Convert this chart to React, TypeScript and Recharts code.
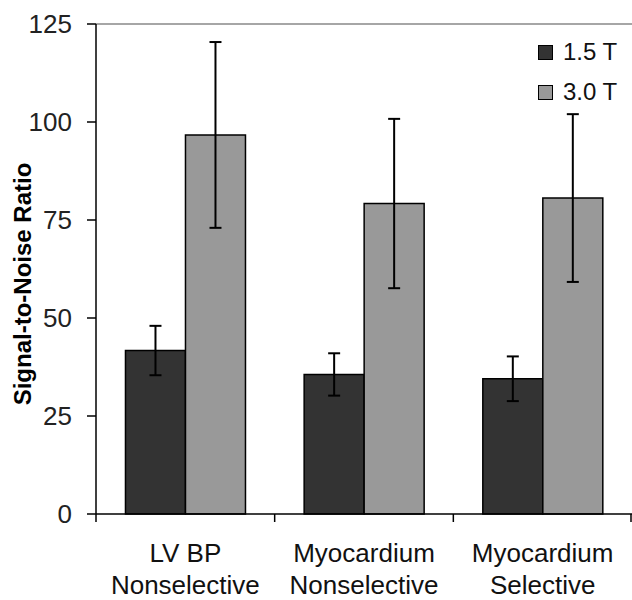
import React from "react";
import { BarChart, Bar, XAxis, YAxis, ErrorBar, Legend, ReferenceLine } from "recharts";

const categories = ["LV BP\nNonselective", "Myocardium\nNonselective", "Myocardium\nSelective"];
const snr15 = [41.7, 35.6, 34.5];
const sd15 = [6.3, 5.4, 5.7];
const snr30 = [96.7, 79.2, 80.6];
const sd30 = [23.7, 21.6, 21.4];
const yTicks = [0, 25, 50, 75, 100, 125];
const seriesNames = ["1.5 T", "3.0 T"];

const data = categories.map((c, i) => ({
  name: c,
  a: snr15[i],
  aErr: sd15[i],
  b: snr30[i],
  bErr: sd30[i],
}));

const FONT = "'Liberation Sans', Arial, sans-serif";

const CatTick = (props: any) => {
  const { x, y, payload, index, visibleTicksCount } = props;
  const lines = String(payload.value).split("\n");
  const off = payload && typeof payload.offset === "number" ? payload.offset : 0;
  const isLast = index === (visibleTicksCount ?? categories.length) - 1;
  return (
    <g>
      {off > 0 && (
        <line x1={x - off} y1={y} x2={x - off} y2={y + 8} stroke="#000" strokeWidth={1.5} />
      )}
      {off > 0 && isLast && (
        <line x1={x + off - 1} y1={y} x2={x + off - 1} y2={y + 8} stroke="#000" strokeWidth={1.5} />
      )}
      <text x={x} y={y} textAnchor="middle" fontSize={26} fill="#111" fontFamily={FONT}>
        {lines.map((l, i) => (
          <tspan key={i} x={x} dy={i === 0 ? 48 : 32}>
            {l}
          </tspan>
        ))}
      </text>
    </g>
  );
};

const YTitle = (props: any) => {
  const vb = props.viewBox || { x: 0, y: 0, width: 0, height: 0 };
  const cx = vb.x + 22;
  const cy = vb.y + vb.height / 2 + 15;
  return (
    <text
      x={cx}
      y={cy}
      transform={`rotate(-90 ${cx} ${cy})`}
      textAnchor="middle"
      dominantBaseline="central"
      fontSize={24}
      fontWeight="bold"
      fill="#000"
      fontFamily={FONT}
    >
      Signal-to-Noise Ratio
    </text>
  );
};

const LegendContent = (props: any) => {
  const payload = props.payload || [];
  return (
    <div style={{ fontFamily: FONT }}>
      {payload.map((p: any, i: number) => (
        <div key={i} style={{ display: "flex", alignItems: "center", height: 40 }}>
          <div
            style={{
              width: 13,
              height: 13,
              background: p.color,
              border: "1px solid #000",
              marginRight: 10,
            }}
          />
          <span style={{ fontSize: 24, color: "#111" }}>{p.value}</span>
        </div>
      ))}
    </div>
  );
};

export default function App() {
  return (
    <div style={{ position: "absolute", left: 0, top: 0, background: "#fff" }}>
      <BarChart
        width={634}
        height={600}
        data={data}
        margin={{ top: 24, right: 2, bottom: 0, left: 0 }}
        barCategoryGap="16.5%"
        barGap={0}
      >
        <XAxis
          dataKey="name"
          axisLine={{ stroke: "#000", strokeWidth: 1.5 }}
          tickLine={false}
          tickSize={0}
          tickMargin={0}
          height={86}
          interval={0}
          tick={<CatTick />}
        />
        <YAxis
          domain={[0, 125]}
          ticks={yTicks}
          width={96}
          tickSize={9}
          tickMargin={15}
          axisLine={{ stroke: "#000", strokeWidth: 1.5 }}
          tickLine={{ stroke: "#000", strokeWidth: 1.5 }}
          tick={{ fontSize: 26, fill: "#222", fontFamily: FONT }}
          label={<YTitle />}
        />
        <ReferenceLine y={125} stroke="#888" strokeWidth={1.5} />
        <Legend
          layout="vertical"
          align="center"
          verticalAlign="middle"
          wrapperStyle={{ top: 32, left: 538, width: 100 }}
          content={<LegendContent />}
        />
        <Bar
          dataKey="a"
          name={seriesNames[0]}
          fill="#333333"
          stroke="#000"
          strokeWidth={1.5}
          isAnimationActive={false}
        >
          <ErrorBar dataKey="aErr" width={6} stroke="#000" strokeWidth={2} />
        </Bar>
        <Bar
          dataKey="b"
          name={seriesNames[1]}
          fill="#999999"
          stroke="#000"
          strokeWidth={1.5}
          isAnimationActive={false}
        >
          <ErrorBar dataKey="bErr" width={6} stroke="#000" strokeWidth={2} />
        </Bar>
      </BarChart>
    </div>
  );
}
